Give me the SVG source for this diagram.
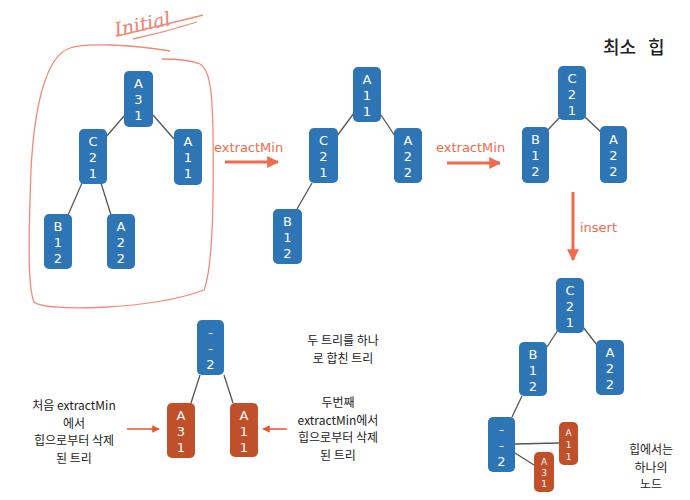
<svg xmlns="http://www.w3.org/2000/svg" width="690" height="500" viewBox="0 0 690 500">
<defs>
<marker id="ah" viewBox="0 0 10 10" refX="9" refY="5" markerWidth="4" markerHeight="4" orient="auto" markerUnits="strokeWidth">
<path d="M0,0 L10,5 L0,10 z" fill="#f06a4e"/>
</marker>
<marker id="ahs" viewBox="0 0 10 10" refX="9" refY="5" markerWidth="5" markerHeight="5" orient="auto" markerUnits="strokeWidth">
<path d="M0,0 L10,5 L0,10 z" fill="#e8532f"/>
</marker>
</defs>
<style>
.b{fill:#2e75b6}
.r{fill:#c0502a}
.t{fill:#fff;font-family:"DejaVu Sans",Verdana,sans-serif;font-size:13px;text-anchor:middle}
.ts{fill:#fff;font-family:"DejaVu Sans",Verdana,sans-serif;font-size:9px;text-anchor:middle}
.e{stroke:#555;stroke-width:1.3;fill:none}
.lbl{fill:#f06a4e;font-family:"DejaVu Sans",Verdana,sans-serif;font-size:13px}
.ko{fill:#222;font-family:"Noto Sans CJK KR","Noto Sans",sans-serif;font-size:12px;text-anchor:middle}
.big{stroke:#f06a4e;stroke-width:3;fill:none}
.hand{stroke:#f08a78;stroke-width:1.3;fill:none}
</style>
<rect width="690" height="500" fill="#fff"/>

<g id="annotation">
<path class="hand" d="M170,51 C130,44 85,43 70,48 C45,56 34,110 31,170 C29,230 27,285 34,302 C45,312 150,310 204,290 C212,270 214,200 213,130 C212,90 210,70 200,64 C190,60 175,59 162,59"/>
<text x="113" y="29" transform="rotate(-12 150 19)" fill="#f08070" font-family="'DejaVu Serif',serif" font-style="italic" font-size="19">Initial</text>
<path class="hand" d="M117,36 C150,28 180,21 203,15"/>
<path class="hand" d="M133,39 C156,34 178,28 197,22"/>
</g>

<g id="title">
<text x="603" y="54" fill="#222" font-family="'Noto Sans CJK KR',sans-serif" font-size="18" font-weight="500">최소</text>
<text x="648" y="54" fill="#222" font-family="'Noto Sans CJK KR',sans-serif" font-size="18" font-weight="500">힙</text>
</g>

<g id="connectors">
<line class="e" x1="124" y1="116" x2="106" y2="137"/>
<line class="e" x1="153" y1="115" x2="174" y2="139"/>
<line class="e" x1="82" y1="183" x2="68" y2="215"/>
<line class="e" x1="101" y1="183" x2="111" y2="215"/>
<line class="e" x1="354" y1="113" x2="337" y2="136"/>
<line class="e" x1="381" y1="115" x2="395" y2="136"/>
<line class="e" x1="312" y1="183" x2="297" y2="209"/>
<line class="e" x1="560" y1="117" x2="545" y2="133"/>
<line class="e" x1="585" y1="117" x2="602" y2="133"/>
<line class="e" x1="558" y1="330" x2="547" y2="347"/>
<line class="e" x1="583" y1="327" x2="597" y2="345"/>
<line class="e" x1="522" y1="396" x2="512" y2="417"/>
<line class="e" x1="515" y1="444" x2="559" y2="443"/>
<line class="e" x1="515" y1="453" x2="534" y2="465"/>
<line class="e" x1="200" y1="375" x2="191" y2="403"/>
<line class="e" x1="224" y1="375" x2="233" y2="403"/>
<line class="big" x1="225" y1="162" x2="278" y2="162" marker-end="url(#ah)"/>
<text class="lbl" x="214" y="152">extractMin</text>
<line class="big" x1="447" y1="163" x2="500" y2="163" marker-end="url(#ah)"/>
<text class="lbl" x="436" y="152">extractMin</text>
<line class="big" x1="573" y1="192" x2="573" y2="260" marker-end="url(#ah)"/>
<text class="lbl" x="580" y="232">insert</text>
<line stroke="#e8532f" stroke-width="1.5" x1="127" y1="429" x2="159" y2="429" marker-end="url(#ahs)"/>
<line stroke="#e8532f" stroke-width="1.5" x1="287" y1="429" x2="263" y2="429" marker-end="url(#ahs)"/>
</g>

<g id="t1-A31"><rect class="b" x="124" y="71" width="29" height="56" rx="5"/><text class="t" x="138.5" y="88">A<tspan x="138.5" dy="16">3</tspan><tspan x="138.5" dy="16">1</tspan></text></g>
<g id="t1-C21"><rect class="b" x="79" y="129" width="28" height="55" rx="5"/><text class="t" x="93" y="146">C<tspan x="93" dy="16">2</tspan><tspan x="93" dy="16">1</tspan></text></g>
<g id="t1-A11"><rect class="b" x="174" y="129" width="28" height="56" rx="5"/><text class="t" x="188" y="146">A<tspan x="188" dy="16">1</tspan><tspan x="188" dy="16">1</tspan></text></g>
<g id="t1-B12"><rect class="b" x="44" y="214" width="28" height="55" rx="5"/><text class="t" x="58" y="231">B<tspan x="58" dy="16">1</tspan><tspan x="58" dy="16">2</tspan></text></g>
<g id="t1-A22"><rect class="b" x="107" y="214" width="28" height="55" rx="5"/><text class="t" x="121" y="231">A<tspan x="121" dy="16">2</tspan><tspan x="121" dy="16">2</tspan></text></g>

<g id="t2-A11"><rect class="b" x="353" y="67" width="28" height="55" rx="5"/><text class="t" x="367" y="84">A<tspan x="367" dy="16">1</tspan><tspan x="367" dy="16">1</tspan></text></g>
<g id="t2-C21"><rect class="b" x="309" y="128" width="29" height="55" rx="5"/><text class="t" x="323.5" y="145">C<tspan x="323.5" dy="16">2</tspan><tspan x="323.5" dy="16">1</tspan></text></g>
<g id="t2-A22"><rect class="b" x="394" y="128" width="28" height="55" rx="5"/><text class="t" x="408" y="145">A<tspan x="408" dy="16">2</tspan><tspan x="408" dy="16">2</tspan></text></g>
<g id="t2-B12"><rect class="b" x="273" y="209" width="29" height="55" rx="5"/><text class="t" x="287.5" y="226">B<tspan x="287.5" dy="16">1</tspan><tspan x="287.5" dy="16">2</tspan></text></g>

<g id="t3-C21"><rect class="b" x="558" y="66" width="28" height="54" rx="5"/><text class="t" x="572" y="83">C<tspan x="572" dy="16">2</tspan><tspan x="572" dy="16">1</tspan></text></g>
<g id="t3-B12"><rect class="b" x="522" y="127" width="27" height="56" rx="5"/><text class="t" x="535.5" y="144">B<tspan x="535.5" dy="16">1</tspan><tspan x="535.5" dy="16">2</tspan></text></g>
<g id="t3-A22"><rect class="b" x="600" y="126" width="27" height="57" rx="5"/><text class="t" x="613.5" y="144">A<tspan x="613.5" dy="16">2</tspan><tspan x="613.5" dy="16">2</tspan></text></g>

<g id="t4-C21"><rect class="b" x="556" y="278" width="28" height="55" rx="5"/><text class="t" x="570" y="295">C<tspan x="570" dy="16">2</tspan><tspan x="570" dy="16">1</tspan></text></g>
<g id="t4-B12"><rect class="b" x="519" y="342" width="28" height="54" rx="5"/><text class="t" x="533" y="359">B<tspan x="533" dy="16">1</tspan><tspan x="533" dy="16">2</tspan></text></g>
<g id="t4-A22"><rect class="b" x="596" y="340" width="28" height="55" rx="5"/><text class="t" x="610" y="357">A<tspan x="610" dy="16">2</tspan><tspan x="610" dy="16">2</tspan></text></g>
<g id="t4-root"><rect class="b" x="488" y="417" width="27" height="55" rx="5"/><text class="t" x="501.5" y="434">-<tspan x="501.5" dy="16">-</tspan><tspan x="501.5" dy="16">2</tspan></text></g>
<g id="t4-A11"><rect class="r" x="559" y="422" width="19" height="43" rx="5"/><text class="ts" x="568.5" y="436">A<tspan x="568.5" dy="12">1</tspan><tspan x="568.5" dy="12">1</tspan></text></g>
<g id="t4-A31"><rect class="r" x="534" y="452" width="20" height="40" rx="5"/><text class="ts" x="544" y="465">A<tspan x="544" dy="11">3</tspan><tspan x="544" dy="11">1</tspan></text></g>

<g id="m-root"><rect class="b" x="197" y="320" width="27" height="55" rx="5"/><text class="t" x="210.5" y="337">-<tspan x="210.5" dy="16">-</tspan><tspan x="210.5" dy="16">2</tspan></text></g>
<g id="m-A31"><rect class="r" x="167" y="403" width="28" height="55" rx="5"/><text class="t" x="181" y="420">A<tspan x="181" dy="16">3</tspan><tspan x="181" dy="16">1</tspan></text></g>
<g id="m-A11"><rect class="r" x="230" y="403" width="28" height="54" rx="5"/><text class="t" x="244" y="420">A<tspan x="244" dy="16">1</tspan><tspan x="244" dy="16">1</tspan></text></g>

<g id="notes">
<text class="ko" x="74" y="410">처음 extractMin</text>
<text class="ko" x="74" y="427.5">에서</text>
<text class="ko" x="74" y="445">힙으로부터 삭제</text>
<text class="ko" x="74" y="462.5">된 트리</text>
<text class="ko" x="343" y="345">두 트리를 하나</text>
<text class="ko" x="343" y="362.5">로 합친 트리</text>
<text class="ko" x="338" y="407">두번째</text>
<text class="ko" x="338" y="424.5">extractMin에서</text>
<text class="ko" x="338" y="442">힙으로부터 삭제</text>
<text class="ko" x="338" y="459.5">된 트리</text>
<text class="ko" x="651" y="454">힙에서는</text>
<text class="ko" x="651" y="471.5">하나의</text>
<text class="ko" x="651" y="489">노드</text>
</g>
</svg>
